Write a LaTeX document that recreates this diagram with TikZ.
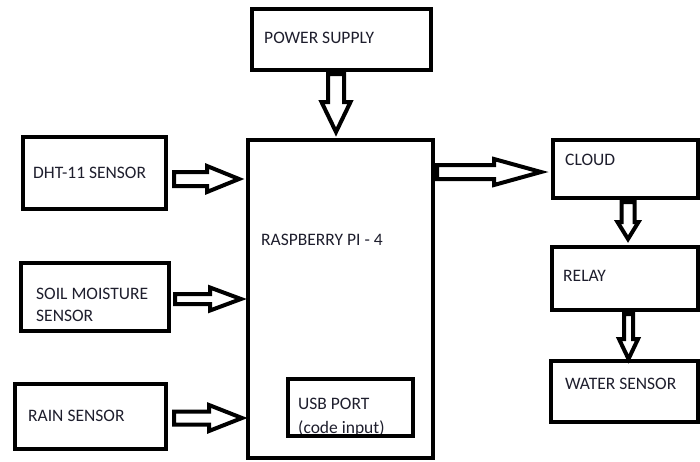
\documentclass[tikz,border=0pt]{standalone}
\usepackage{fontspec}
\setmainfont{Carlito}
\usetikzlibrary{calc}
\definecolor{txt}{RGB}{30,30,45}
\tikzset{
 box/.style 2 args={draw=black, line width=4pt, minimum width=#1pt, minimum height=#2pt, inner sep=0pt, outer sep=0pt},
 lbl/.style={anchor=base west, inner sep=0pt, text=txt, font=\fontsize{17.5}{22}\selectfont},
 arrowline/.style={draw=black, fill=white, line width=4pt, line join=miter}
}
% start, end, shaft half width, head half width, head length
\newcommand\blockarrow[5]{%
 \draw[arrowline] let \p1=($(#2)-(#1)$), \n1={atan2(\y1,\x1)}, \n2={veclen(\x1,\y1)-#5} in
  ($(#1)+(\n1+90:#3)$) -- ++(\n1:\n2) -- ++(\n1+90:#4-#3) -- (#2)
  -- ($(#1)+(\n1:\n2)+(\n1-90:#4)$) -- ++(\n1+90:#4-#3) -- ($(#1)+(\n1-90:#3)$) -- cycle;}
\begin{document}
\begin{tikzpicture}[x=1pt,y=-1pt]
\fill[white] (0,0) rectangle (700,461);
\useasboundingbox (0,0) rectangle (700,461);

% boxes
\node[box={178.5}{61}] (ps) at (341.25,39) {};
\node[box={184.5}{318}] (pi) at (340.25,298.5) {};
\node[box={143}{71.5}] (dht) at (94.5,172.75) {};
\node[box={148.5}{67.5}] (soil) at (94.75,296.75) {};
\node[box={150.5}{64.5}] (rain) at (90.25,416.25) {};
\node[box={145.5}{58}] (cloud) at (625.25,168.5) {};
\node[box={146.5}{62.5}] (relay) at (624.75,278.25) {};
\node[box={147.5}{61}] (water) at (624.25,391) {};

% labels
\node[lbl] (tps) at (264,43) {POWER SUPPLY};
\node[lbl] (tdht) at (33,178) {DHT-11 SENSOR};
\node[lbl] (tsoil1) at (36,299) {SOIL MOISTURE};
\node[lbl] (tsoil2) at (36,321) {SENSOR};
\node[lbl] (train) at (28,421) {RAIN SENSOR};
\node[lbl] (tpi) at (261,245) {RASPBERRY PI - 4};
\node[lbl] (tusb1) at (298,409) {USB PORT};
\node[lbl] (tusb2) at (298,433) {(code input)};
\node[lbl] (tcloud) at (565,165) {CLOUD};
\node[lbl] (trelay) at (563,281) {RELAY};
\node[lbl] (twater) at (565,389) {WATER SENSOR};

\node[box={125}{56.5}] (usb) at (350,407.25) {};

% arrow end points
\coordinate (a1s) at (336,74);   \coordinate (a1e) at (336,132);
\coordinate (a2s) at (174,179);  \coordinate (a2e) at (239,179);
\coordinate (a3s) at (175,299);  \coordinate (a3e) at (241,299);
\coordinate (a4s) at (174,418);  \coordinate (a4e) at (242,418);
\coordinate (a5s) at (437,172);  \coordinate (a5e) at (541,172);
\coordinate (a6s) at (628,202);  \coordinate (a6e) at (628,239);
\coordinate (a7s) at (628.5,314);\coordinate (a7e) at (628.5,359);

\blockarrow{a1s}{a1e}{8pt}{14.5pt}{30pt}
\blockarrow{a2s}{a2e}{7pt}{13pt}{32pt}
\blockarrow{a3s}{a3e}{5pt}{11.5pt}{31pt}
\blockarrow{a4s}{a4e}{6.5pt}{13pt}{33pt}
\blockarrow{a5s}{a5e}{7pt}{13pt}{47pt}
\blockarrow{a6s}{a6e}{6.5pt}{10.5pt}{17pt}
\blockarrow{a7s}{a7e}{4.5pt}{9.5pt}{20pt}
\end{tikzpicture}
\end{document}
